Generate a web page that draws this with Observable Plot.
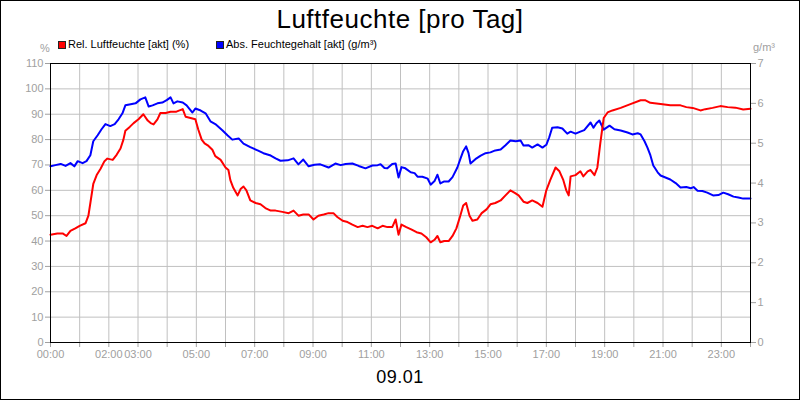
<!DOCTYPE html>
<html><head><meta charset="utf-8">
<script src="https://cdn.jsdelivr.net/npm/d3@7"></script>
<script src="https://cdn.jsdelivr.net/npm/@observablehq/plot@0.6"></script>
<style>
html,body{margin:0;padding:0;background:#fff;}
#chart{position:relative;width:800px;height:400px;box-sizing:border-box;border:1px solid #000;background:#fff;font-family:"Liberation Sans",Arial,sans-serif;overflow:hidden;}
#title{position:absolute;left:0;top:5px;width:100%;text-align:center;font-size:26px;line-height:26px;letter-spacing:0.5px;color:#000;}
#footer{position:absolute;left:0;top:367px;width:100%;text-align:center;font-size:18px;line-height:18px;letter-spacing:0.5px;color:#000;}
.unit{position:absolute;font-size:11px;line-height:11px;color:#a0a0a0;white-space:nowrap;}
.legtext{position:absolute;font-size:11px;line-height:11px;color:#000;white-space:nowrap;}
.sw{position:absolute;width:6px;height:6px;border:1px solid #222;}
#plot{position:absolute;left:0;top:55px;}
</style></head><body>
<div id="chart">
  <div id="title">Luftfeuchte [pro Tag]</div>
  <div class="unit" style="left:39px;top:42px;">%</div>
  <div class="unit" style="left:752px;top:41px;">g/m³</div>
  <div class="sw" style="left:57px;top:40px;background:#ff0000;"></div>
  <div class="legtext" style="left:67px;top:38px;">Rel. Luftfeuchte [akt] (%)</div>
  <div class="sw" style="left:215px;top:40px;background:#0000ff;"></div>
  <div class="legtext" style="left:225px;top:38px;">Abs. Feuchtegehalt [akt] (g/m³)</div>
  <div id="plot"></div>
  <div id="footer">09.01</div>
</div>
<script>
// Relative humidity (%)
const relTimes = ["00:00","00:14","00:25","00:33","00:41","00:51","01:00","01:12","01:18","01:22","01:28","01:35","01:43","01:51","01:57","02:08","02:16","02:24","02:30","02:34","02:43","02:51","03:01","03:11","03:20","03:26","03:32","03:40","03:46","03:57","04:07","04:19","04:32","04:38","04:48","04:58","05:04","05:11","05:17","05:25","05:33","05:39","05:50","06:00","06:06","06:10","06:16","06:25","06:31","06:37","06:43","06:51","07:02","07:12","07:22","07:33","07:43","07:57","08:10","08:20","08:30","08:40","08:51","09:01","09:11","09:22","09:32","09:42","09:50","10:01","10:11","10:21","10:32","10:42","10:52","11:02","11:13","11:23","11:33","11:43","11:50","11:56","12:02","12:12","12:23","12:33","12:43","12:53","13:02","13:10","13:16","13:22","13:30","13:39","13:47","13:55","14:03","14:09","14:15","14:22","14:28","14:38","14:47","14:57","15:05","15:15","15:26","15:36","15:46","15:55","16:03","16:13","16:21","16:31","16:42","16:52","17:00","17:08","17:19","17:27","17:35","17:41","17:46","17:50","18:00","18:10","18:16","18:25","18:31","18:39","18:45","18:51","18:58","19:06","19:16","19:33","19:53","20:14","20:24","20:34","20:55","21:15","21:36","21:48","22:01","22:17","22:27","22:42","22:58","23:13","23:29","23:45","24:00"];
const relValues = [42.5,43,43,42,44,45,46,47,50,55,62.5,66,68.5,71.5,72.5,72,74,76.5,80,83.5,85,86.5,88,90,87.5,86.5,86,88,90.5,90.5,91,91,92,89,88.5,88,84,80,78.5,77.5,76,73.5,72,69,68,64,61,58,60.5,61.5,60,56,55,54.5,53,52,52,51.5,51,52,50,50.5,50.5,48.5,50,50.5,51,51,49.5,48,47.5,46.5,45.5,46,45.5,46,45,46,45.5,45.5,48.5,42.5,46.5,45.5,44.5,43.5,43,41.5,39.5,40.5,42,39.5,40,40,42,45,50,54,55,50,48,48.5,51,52.5,54.5,55,56,58,60,59,58,55.5,55,56,55,53.5,60,64,69,67.5,64,60,58,65.5,66,67.5,65.5,67.5,68,66,69,78.5,88.5,90.7,91.5,92.5,94,95.5,95.5,94.5,94,93.5,93.5,92.8,92.5,91.5,92,92.5,93.2,92.8,92.6,91.9,92.2];

// Absolute humidity (g/m³)
const absTimes = ["00:00","00:10","00:21","00:31","00:41","00:49","00:56","01:06","01:14","01:22","01:28","01:37","01:45","01:53","02:03","02:12","02:20","02:28","02:34","02:45","02:55","03:05","03:15","03:22","03:30","03:40","03:50","03:59","04:07","04:13","04:21","04:32","04:40","04:52","04:58","05:09","05:19","05:29","05:39","05:54","06:04","06:14","06:27","06:37","06:51","07:06","07:18","07:33","07:43","07:53","08:08","08:20","08:30","08:40","08:51","09:03","09:15","09:32","09:46","09:57","10:07","10:21","10:34","10:48","11:02","11:13","11:19","11:27","11:33","11:43","11:50","11:56","12:02","12:10","12:21","12:29","12:35","12:45","12:56","13:02","13:10","13:16","13:22","13:30","13:39","13:47","13:57","14:03","14:09","14:15","14:20","14:24","14:34","14:45","14:55","15:05","15:15","15:26","15:36","15:46","15:57","16:07","16:13","16:23","16:31","16:42","16:52","17:00","17:06","17:12","17:23","17:33","17:43","17:50","18:00","18:10","18:18","18:31","18:37","18:43","18:49","18:58","19:10","19:20","19:33","19:47","19:57","20:08","20:14","20:22","20:28","20:34","20:40","20:49","20:55","21:05","21:15","21:26","21:36","21:48","21:57","22:03","22:11","22:21","22:31","22:43","22:54","23:04","23:14","23:25","23:35","23:45","24:00"];
const absValues = [4.42,4.45,4.48,4.43,4.5,4.42,4.55,4.5,4.55,4.7,5.05,5.2,5.35,5.48,5.43,5.48,5.6,5.75,5.95,5.98,6.0,6.1,6.15,5.92,5.95,6.0,6.02,6.08,6.15,6.0,6.05,6.02,5.95,5.77,5.87,5.82,5.75,5.55,5.48,5.32,5.2,5.09,5.12,4.99,4.9,4.82,4.75,4.69,4.62,4.56,4.57,4.62,4.47,4.59,4.42,4.46,4.47,4.39,4.49,4.45,4.48,4.49,4.43,4.37,4.44,4.45,4.47,4.38,4.37,4.48,4.49,4.14,4.4,4.37,4.27,4.25,4.16,4.16,4.11,3.96,4.05,4.21,3.99,4.04,4.04,4.15,4.39,4.6,4.8,4.92,4.75,4.49,4.6,4.69,4.75,4.77,4.82,4.84,4.95,5.07,5.05,5.07,4.94,4.95,4.89,4.97,4.89,4.96,5.15,5.39,5.4,5.37,5.24,5.29,5.24,5.29,5.33,5.52,5.39,5.5,5.57,5.34,5.44,5.35,5.32,5.27,5.22,5.25,5.22,5.05,4.89,4.7,4.44,4.27,4.19,4.14,4.09,4.0,3.89,3.9,3.87,3.9,3.81,3.8,3.76,3.69,3.7,3.76,3.72,3.66,3.64,3.61,3.61];

const leftTicks = [0,10,20,30,40,50,60,70,80,90,100,110];
const rightTicks = [0,1,2,3,4,5,6,7];
const xTickLabels = ["00:00","02:00","03:00","05:00","07:00","09:00","11:00","13:00","15:00","17:00","19:00","21:00","23:00"];
const leftMax = 110, rightMax = 7;

const toHours = s => { const [h, m] = s.split(":").map(Number); return h + m / 60; };
const relRows = relTimes.map((t, i) => ({h: toHours(t), v: relValues[i]}));
const absRows = absTimes.map((t, i) => ({h: toHours(t), v: absValues[i] * leftMax / rightMax}));
const hourTicks = d3.range(0, 25);
const labeled = new Set(xTickLabels.map(toHours));
const fmtHour = h => String(h).padStart(2, "0") + ":00";

const plot = Plot.plot({
  width: 798, height: 312,
  marginLeft: 49, marginRight: 49, marginTop: 7, marginBottom: 26,
  x: {domain: [0, 24]},
  y: {domain: [0, leftMax]},
  style: {fontFamily: "Liberation Sans, Arial, sans-serif", fontSize: "11px", background: "white", overflow: "visible"},
  marks: [
    Plot.gridX(hourTicks, {stroke: "#c0c0c0", strokeOpacity: 1}),
    Plot.gridY(leftTicks, {stroke: "#c0c0c0", strokeOpacity: 1}),
    Plot.axisX({ticks: hourTicks, tickSize: 5, tickPadding: 3, tickFormat: h => labeled.has(h) ? fmtHour(h) : "", color: "#a0a0a0", label: null}),
    Plot.axisY({ticks: leftTicks, tickSize: 5, tickPadding: 2, color: "#a0a0a0", label: null}),
    Plot.axisY({anchor: "right", ticks: rightTicks.map(g => g * leftMax / rightMax), tickFormat: d => String(Math.round(d * rightMax / leftMax)), tickSize: 5, tickPadding: 2, color: "#a0a0a0", label: null}),
    Plot.line(absRows, {x: "h", y: "v", stroke: "#0000ff", strokeWidth: 2}),
    Plot.line(relRows, {x: "h", y: "v", stroke: "#ff0000", strokeWidth: 2}),
    Plot.frame({stroke: "#000"})
  ]
});
document.getElementById("plot").appendChild(plot);
</script>
</body></html>
